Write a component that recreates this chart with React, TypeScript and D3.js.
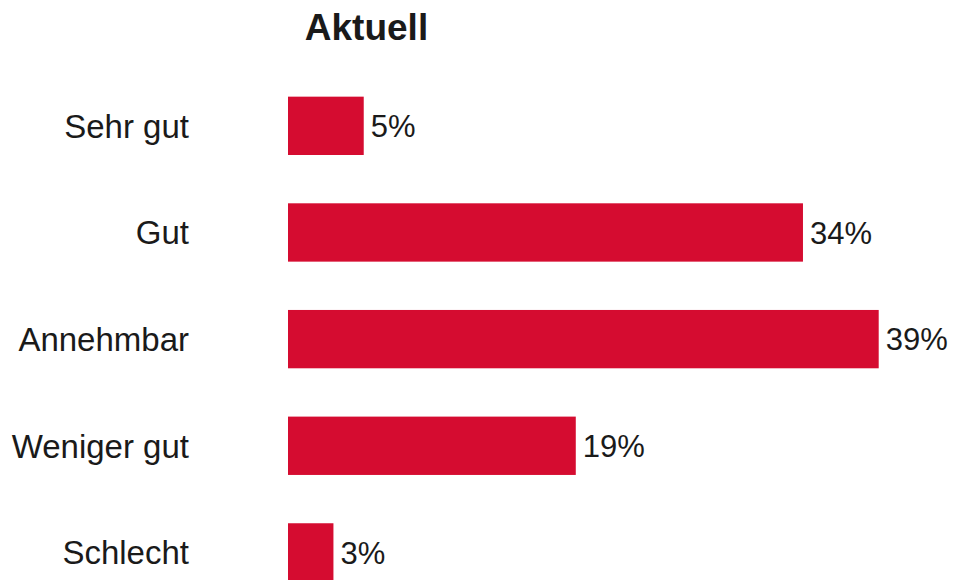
import React from 'react';
import * as d3 from 'd3';

const categories = ['Sehr gut', 'Gut', 'Annehmbar', 'Weniger gut', 'Schlecht'];
const values = [5, 34, 39, 19, 3];
const title = 'Aktuell';

const width = 955;
const height = 580;
const barColor = '#d50c30';
const textColor = '#1a1a1a';
const font = 'Arial, "Liberation Sans", Helvetica, sans-serif';

const App: React.FC = () => {
  const x = d3.scaleLinear().domain([0, 39]).range([288, 878.7]);

  const y = d3.scaleBand<string>()
    .domain(categories)
    .range([72.5, 605.75])
    .paddingInner(0.453)
    .paddingOuter(0.2265);

  return (
    <svg
      width={width}
      height={height}
      style={{ position: 'fixed', left: 0, top: 0, background: '#fff' }}
      fontFamily={font}
    >
      <text
        x={366.5}
        y={40}
        textAnchor="middle"
        fontSize={37}
        fontWeight="bold"
        fill={textColor}
      >
        {title}
      </text>

      {categories.map((c, i) => {
        const top = y(c) as number;
        const mid = top + y.bandwidth() / 2;
        return (
          <g key={c}>
            <text
              x={189}
              y={mid}
              dy="0.36em"
              textAnchor="end"
              fontSize={33}
              fill={textColor}
            >
              {c}
            </text>
            <rect
              x={x(0)}
              y={top}
              width={x(values[i]) - x(0)}
              height={y.bandwidth()}
              fill={barColor}
            />
            <text
              x={x(values[i]) + 7}
              y={mid}
              dy="0.36em"
              fontSize={31}
              fill={textColor}
            >
              {values[i]}%
            </text>
          </g>
        );
      })}
    </svg>
  );
};

export default App;
